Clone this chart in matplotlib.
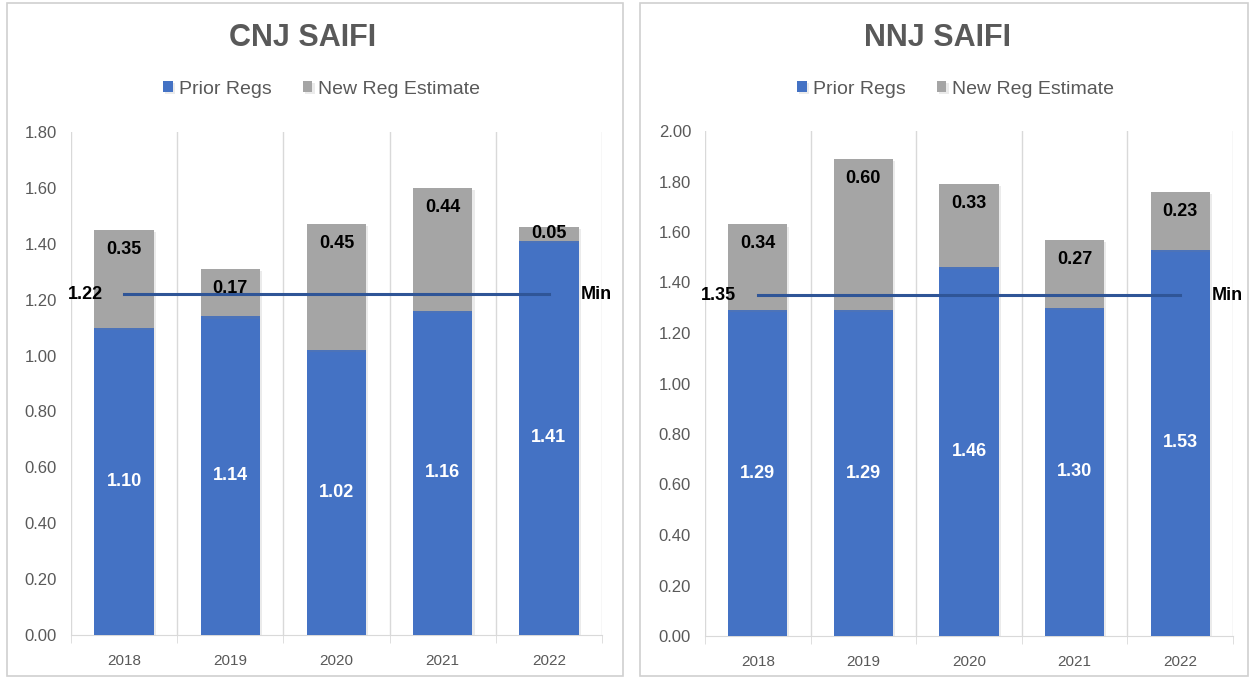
import numpy as np
import matplotlib.pyplot as plt
from matplotlib.patches import Rectangle
import matplotlib.patheffects as pe

years = ['2018', '2019', '2020', '2021', '2022']

cnj_prior = [1.10, 1.14, 1.02, 1.16, 1.41]
cnj_new = [0.35, 0.17, 0.45, 0.44, 0.05]
cnj_min = 1.22

nnj_prior = [1.29, 1.29, 1.46, 1.30, 1.53]
nnj_new = [0.34, 0.60, 0.33, 0.27, 0.23]
nnj_min = 1.35

BLUE = '#4472C4'
GRAY = '#A5A5A5'
TXT = '#595959'
GRID = '#D9D9D9'

plt.rcParams['font.family'] = ['Liberation Sans', 'DejaVu Sans']

fig = plt.figure(figsize=(12.52, 6.79), dpi=100)

shadow = [pe.SimplePatchShadow(offset=(1.5, -1.5), alpha=0.15, shadow_rgbFace='#7f7f7f'), pe.Normal()]


def panel(ax_rect, frame_rect, title, title_x, prior, new, minval, ymax):
    # panel border
    fig.patches.append(Rectangle((frame_rect[0], frame_rect[1]), frame_rect[2], frame_rect[3],
                                 transform=fig.transFigure, fill=False, edgecolor='#D0D0D0', lw=1.2))
    ax = fig.add_axes(ax_rect)
    x = np.arange(len(years))
    prior = np.array(prior)
    new = np.array(new)
    b1 = ax.bar(x, prior, width=0.56, color=BLUE, label='Prior Regs', zorder=3)
    b2 = ax.bar(x, new, bottom=prior, width=0.56, color=GRAY, label='New Reg Estimate', zorder=3)
    for b in list(b1) + list(b2):
        b.set_path_effects(shadow)

    for xi, p, n in zip(x, prior, new):
        ax.text(xi, p / 2, f'{p:.2f}', ha='center', va='center', color='white',
                fontsize=13, fontweight='bold', zorder=5)
        top = p + n
        if n < 0.1:
            ax.text(xi, p + n / 2, f'{n:.2f}', ha='center', va='center', color='black',
                    fontsize=13, fontweight='bold', zorder=5)
        else:
            ax.annotate(f'{n:.2f}', (xi, top), xytext=(0, -14), textcoords='offset points',
                        ha='center', va='center', color='black', fontsize=13,
                        fontweight='bold', zorder=5)

    ax.plot([x[0], x[-1]], [minval, minval], color='#2F5597', lw=2.2, zorder=4)
    ax.annotate(f'{minval:.2f}', (x[0], minval), xytext=(-28, 0), textcoords='offset points',
                ha='center', va='center', fontsize=13, fontweight='bold', color='black',
                annotation_clip=False)
    ax.annotate('Min', (x[-1], minval), xytext=(34, 0), textcoords='offset points',
                ha='center', va='center', fontsize=13, fontweight='bold', color='black',
                annotation_clip=False)

    ax.set_xlim(-0.5, len(years) - 0.5)
    ax.set_ylim(0, ymax)
    ax.set_yticks(np.arange(0, ymax + 0.001, 0.2))
    ax.set_yticklabels([f'{v:.2f}' for v in np.arange(0, ymax + 0.001, 0.2)])
    ax.set_xticks(x)
    ax.set_xticklabels(years)
    ax.set_xticks(np.arange(-0.5, len(years), 1), minor=True)
    ax.tick_params(axis='x', which='major', length=0, pad=14, labelsize=11, labelcolor=TXT)
    ax.tick_params(axis='x', which='minor', length=6, color=GRID)
    ax.tick_params(axis='y', length=0, pad=10, labelsize=12, labelcolor=TXT)
    ax.grid(axis='x', which='minor', color=GRID, lw=1, zorder=0)
    for s in ['top', 'right', 'left']:
        ax.spines[s].set_visible(False)
    ax.spines['bottom'].set_color(GRID)

    fig.text(title_x, 1 - 38 / 679, title, ha='center', va='center', fontsize=22,
             fontweight='bold', color=TXT)
    leg = ax.legend(loc='center', bbox_to_anchor=(0.5, 1 - 89 / 679), bbox_transform=fig.transFigure,
                    ncol=2, frameon=False, fontsize=14, handlelength=0.5, handleheight=0.5,
                    handletextpad=0.3, columnspacing=1.6)
    for t in leg.get_texts():
        t.set_color(TXT)
    leg.set_bbox_to_anchor((title_x + 0.015, 1 - 89 / 679), transform=fig.transFigure)
    return ax


panel([71 / 1252, 1 - 635 / 679, 531 / 1252, 503 / 679],
      [7 / 1252, 3 / 679, 616 / 1252, 673 / 679],
      'CNJ SAIFI', 303 / 1252, cnj_prior, cnj_new, cnj_min, 1.8)

panel([705 / 1252, 1 - 636 / 679, 528 / 1252, 505 / 679],
      [640 / 1252, 3 / 679, 608 / 1252, 673 / 679],
      'NNJ SAIFI', 937 / 1252, nnj_prior, nnj_new, nnj_min, 2.0)

fig.savefig('out.png', dpi=100)
